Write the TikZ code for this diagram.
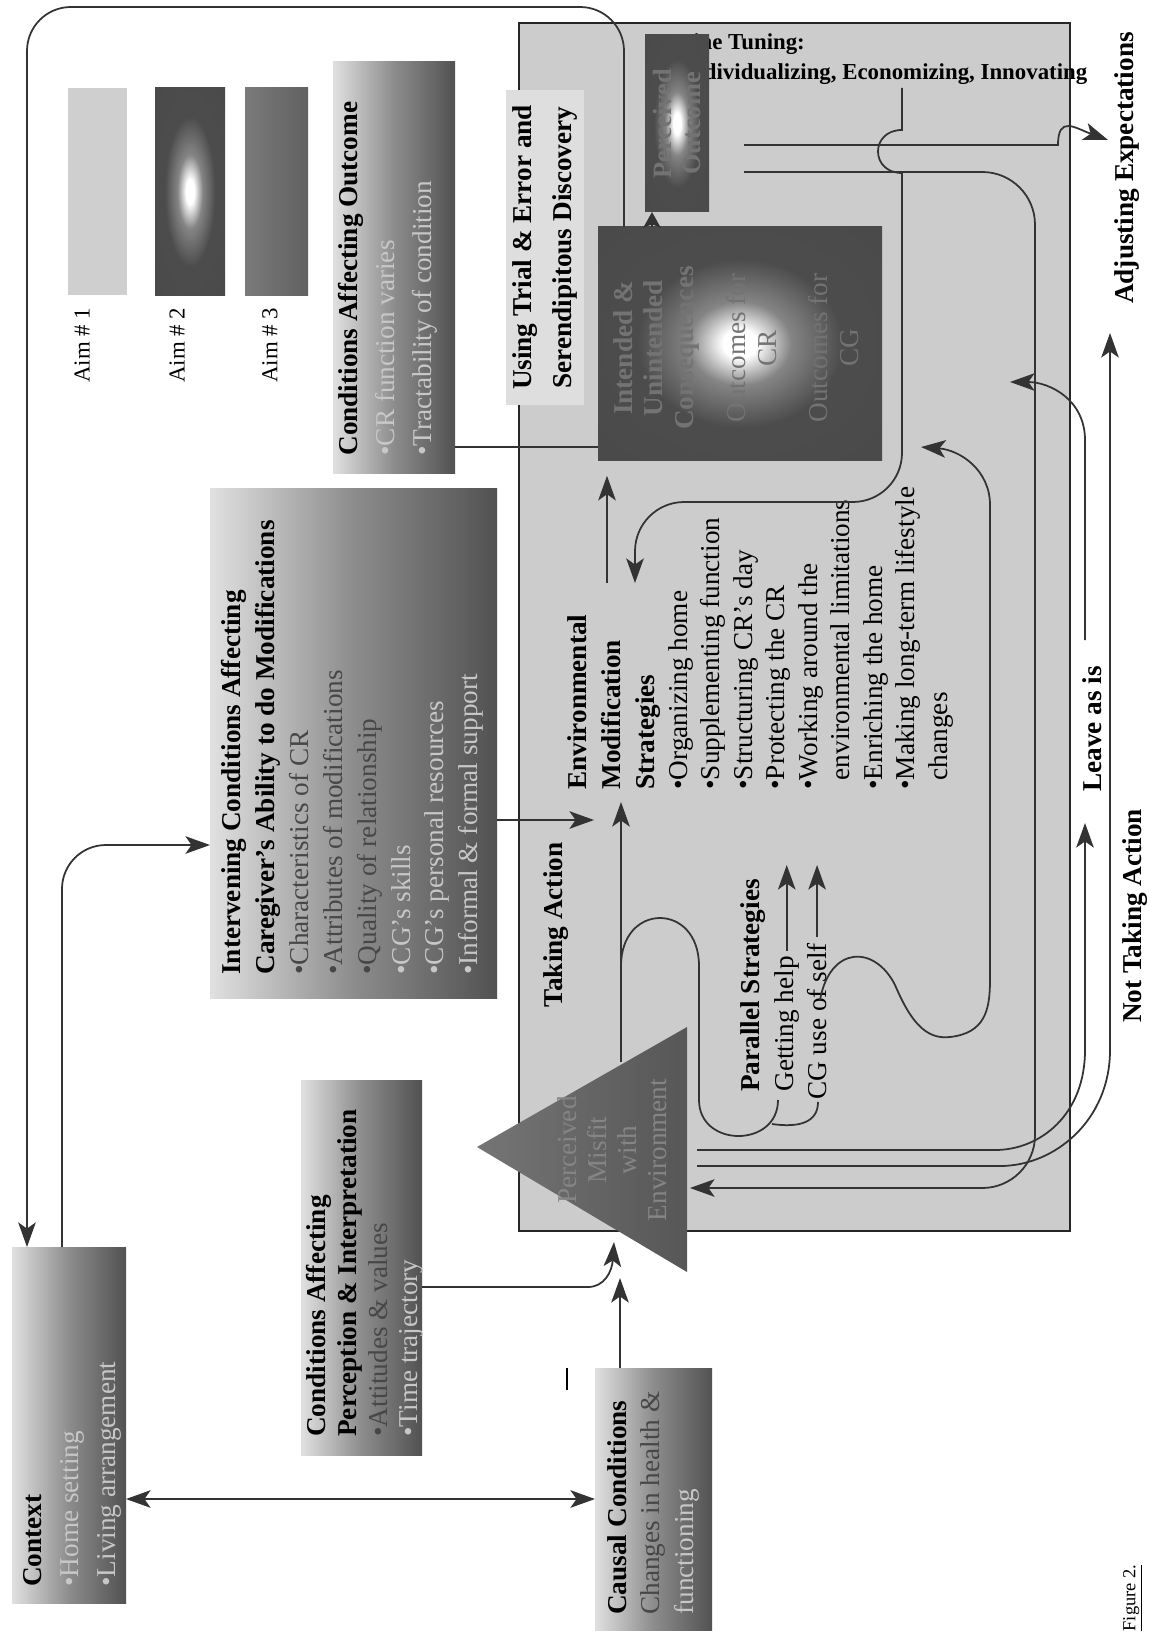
\documentclass[tikz,border=0pt]{standalone}
\usepackage{fontspec}
\setmainfont{Liberation Serif}
\usetikzlibrary{arrows.meta, fit}

\pgfdeclareradialshading{glow}{\pgfpointorigin}{color(0bp)=(white); color(3bp)=(white); color(9bp)=(black!48); color(18bp)=(black!70); color(50bp)=(black!72)}
\newcommand{\darktxt}[1]{\textcolor{black!72}{#1}}
\newcommand{\lighttxt}[1]{\textcolor{black!22}{#1}}

\begin{document}
\begin{tikzpicture}[x=0.02cm, y=-0.02cm,
    >={Stealth[length=14pt, width=10pt, inset=3.5pt]},
    conn/.style={line width=1pt, draw=black!80},
    arr/.style={conn, ->},
    gbox/.style={inner sep=0pt, outer sep=0pt, left color=black!12, right color=black!68, middle color=black!45},
    glowbox/.style={inner sep=0pt, outer sep=0pt, shading=glow},
    boxtxt/.style={rotate=90, anchor=north west, inner sep=0pt, align=left, font=\fontsize{15.5}{19}\selectfont},
    lbl/.style={rotate=90, inner sep=0pt, font=\fontsize{15.5}{19}\selectfont\bfseries}
]
\useasboundingbox (0,0) rectangle (1149,1632);

% -- legend --
\node[fill=black!19, inner sep=0pt, fit={(68,88) (127,295)}] (aim1) {};
\node[glowbox, fit={(155,88) (225,295)}] (aim2) {};
\node[inner sep=0pt, left color=black!52, right color=black!62, fit={(245,88) (308,295)}] (aim3) {};
\foreach \n/\x in {1/82, 2/177, 3/270}
  \node[lbl, font=\fontsize{13}{15}\selectfont, anchor=west] (aim\n-t) at (\x,383) {Aim \# \n};

% -- condition boxes --
\node[gbox, fit={(12,1247) (126,1603)}] (ctx) {};
\node[boxtxt, font=\fontsize{15.5}{21}\selectfont] (ctx-t) at (23,1587) {\textbf{Context}\\\lighttxt{•Home setting}\\\lighttxt{•Living arrangement}};

\node[gbox, fit={(595,1368) (712,1630)}] (causal) {};
\node[boxtxt] (causal-t) at (607,1615) {\textbf{Causal Conditions}\\\darktxt{Changes in health \&}\\\lighttxt{functioning}};

\node[gbox, fit={(301,1080) (422,1455)}] (percep) {};
\node[boxtxt, font=\fontsize{15.5}{17.5}\selectfont] (percep-t) at (306,1437) {\textbf{Conditions Affecting}\\\textbf{Perception \& Interpretation}\\\darktxt{•Attitudes \& values}\\\lighttxt{•Time trajectory}};

\node[gbox, fit={(210,488) (497,998)}] (interv) {};
\node[boxtxt, font=\fontsize{15.5}{19.3}\selectfont] (interv-t) at (221,975) {\textbf{Intervening Conditions Affecting}\\\textbf{Caregiver's Ability to do Modifications}\\\darktxt{•Characteristics of CR}\\\darktxt{•Attributes of modifications}\\\darktxt{•Quality of relationship}\\\lighttxt{•CG's skills}\\\lighttxt{•CG's personal resources}\\\lighttxt{•Informal \& formal support}};

\node[gbox, fit={(333,62) (455,473)}] (condout) {};
\node[boxtxt, font=\fontsize{15.5}{21}\selectfont] (condout-t) at (338,456) {\textbf{Conditions Affecting Outcome}\\\lighttxt{•CR function varies}\\\lighttxt{•Tractability of condition}};

% -- environment box --
\node[draw=black!85, line width=1.5pt, fill=black!20, inner sep=0pt, fit={(519,23) (1070,1231)}] (envbox) {};
\node[fill=black!13, inner sep=0pt, fit={(506,90) (584,405)}] (trial) {};
\node[lbl, align=center, font=\fontsize{15.5}{23}\selectfont\bfseries] (trial-t) at (trial.center) {Using Trial \& Error and\\Serendipitous Discovery};

\node[anchor=base west, inner sep=0pt, font=\fontsize{13}{15}\selectfont\bfseries] (tune) at (679,50) {Fine Tuning:};
\node[anchor=base west, inner sep=0pt, font=\fontsize{13}{15}\selectfont\bfseries] (tune-list) at (682,80) {Individualizing, Economizing, Innovating};

\node[glowbox, fit={(598,227) (882,460)}] (outc) {};
\node[rotate=90, align=center, text=black!55, font=\fontsize{15.5}{17.5}\selectfont] (outc-t) at (736,348) {\textbf{Intended \&}\\\textbf{Unintended}\\\textbf{Consequences}\\[12pt]Outcomes for\\CR\\[12pt]Outcomes for\\CG};

\node[glowbox, fit={(645,35) (709,212)}] (perout) {};
\node[rotate=90, align=center, text=black!55, font=\fontsize{15}{17}\selectfont\bfseries] (perout-t) at (perout.center) {Perceived\\Outcome};

\path[left color=black!54, right color=black!66] (477,1147) coordinate (mf-l) -- (687,1027) coordinate (mf-t) -- (687,1272) coordinate (mf-b) -- cycle;
\node[rotate=90, align=center, text=black!48, font=\fontsize{15.5}{17}\selectfont] (misfit) at (612,1150) {Perceived\\Misfit\\with\\Environment};

\node[boxtxt, font=\fontsize{15.5}{18.5}\selectfont] (strat) at (567,790) {\textbf{Environmental}\\[1pt]\textbf{Modification}\\[1pt]\textbf{Strategies}\\•Organizing home\\•Supplementing function\\•Structuring CR's day\\•Protecting the CR\\•Working around the\\\phantom{•}environmental limitations\\•Enriching the home\\•Making long-term lifestyle\\\phantom{•}changes};

\node[boxtxt] (parstrat) at (740,1092) {\textbf{Parallel Strategies}};
\node[boxtxt] (gh) at (774,1092) {Getting help};
\node[boxtxt] (cg) at (807,1100) {CG use of self};

% -- labels --
\node[lbl] (takeact) at (556,925) {Taking Action};
\node[lbl] (leave) at (1092,729) {Leave as is};
\node[lbl] (notact) at (1135,916) {Not Taking Action};
\node[lbl] (adjust) at (1127,168) {Adjusting Expectations};
\node[rotate=90, inner sep=0pt, font=\fontsize{10.5}{12}\selectfont] (fig) at (1133,1598) {\underline{Figure 2.}};
\draw[line width=1pt] (567,1368) -- (567,1390);

% -- connectors --
\draw[arr, rounded corners=25] (outc.north -| 624,0) |- (27,7) -- (ctx.north -| 27,0);
\draw[arr, rounded corners=25] (ctx.north -| 62,0) |- (interv.west |- 0,845);
\draw[conn, <->] (ctx.east |- causal.west) -- (causal.west);
\draw[arr] (causal.north -| 620,0) -- (620,1278);
\draw[arr] (percep.east |- 0,1287) -- (588,1287) .. controls (604,1287) and (612,1272) .. (614,1242);
\draw[arr] (interv.east |- 0,820) -- (594,820);
\draw[conn] (condout.east |- 0,447) -- (outc.west |- 0,447);

\draw[arr] (621,1062) -- (621,802);
\draw[conn] (621,966) .. controls (621,902) and (699,902) .. (699,966) -- (699,1100) .. controls (699,1148) and (778,1148) .. (778,1100);
\draw[conn] (818,1102) .. controls (818,1122) and (800,1128) .. (772,1124);
\draw[arr, shorten <=3pt] (gh.east) -- (gh.east |- 0,865);
\draw[arr, shorten <=3pt] (cg.east) -- (cg.east |- 0,865);
\draw[arr] (820,1000) .. controls (830,945) and (875,945) .. (895,985) .. controls (910,1020) and (925,1040) .. (950,1037) .. controls (985,1033) and (990,1010) .. (990,980) -- (990,505) .. controls (990,470) and (960,450) .. (921,447);

\draw[arr, shorten >=9pt] (607,583) -- (outc.south -| 607,0);
\draw[conn, -{Stealth[length=9pt, width=10pt, inset=2pt]}] (outc.north -| 652,0) -- (perout.south -| 652,0);
\draw[arr] (902,88) -- (902,130) .. controls (870,130) and (870,173) .. (902,173) -- (902,300) [rounded corners=28] -- (902,502) -- (635,502) -- (635,583);

\draw[arr, shorten <=20pt] (perout.east |- 0,145) -- (1058,145) .. controls (1058,115) and (1075,128) .. (1108,140);
\draw[arr, rounded corners=30, shorten <=20pt] (perout.east |- 0,172) -| (1035,1188) -- (690,1188);

\draw[arr] (697,1150) -- (995,1150) .. controls (1040,1150) and (1085,1115) .. (1085,1050) -- (1085,823);
\draw[arr] (697,1166) -- (1000,1166) .. controls (1055,1166) and (1110,1120) .. (1110,1050) -- (1110,333);
\draw[arr] (1085,640) -- (1085,440) .. controls (1085,400) and (1050,382) .. (1010,382);

\end{tikzpicture}
\end{document}
